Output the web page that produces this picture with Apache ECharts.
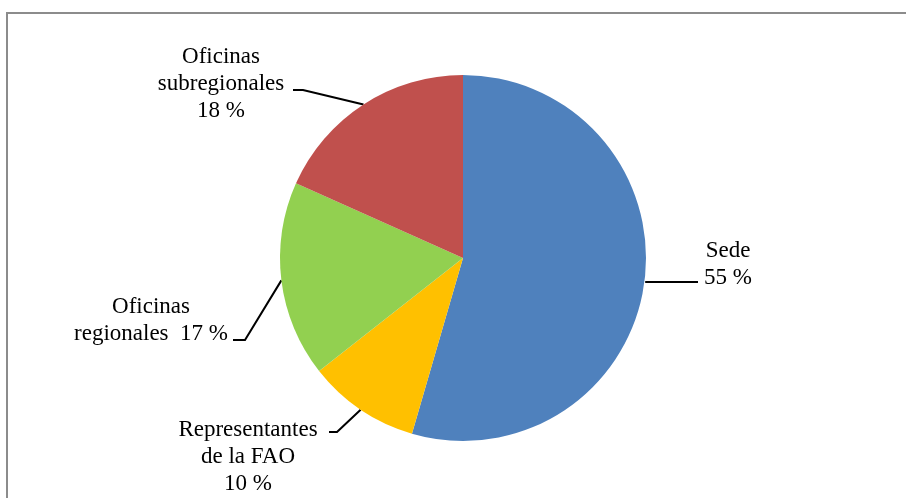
<!DOCTYPE html>
<html>
<head>
<meta charset="utf-8">
<script src="https://cdn.jsdelivr.net/npm/echarts@6/dist/echarts.min.js"></script>
<style>
	html,body{margin:0;padding:0;background:#fff;}
	#wrap{position:relative;width:906px;height:498px;overflow:hidden;}
	#frame{position:absolute;left:6px;top:12px;width:920px;height:520px;border:2px solid #8c8c8c;box-sizing:border-box;}
	#chart{position:absolute;left:0;top:0;width:906px;height:498px;}
</style>
</head>
<body>
<div id="wrap">
	<div id="frame"></div>
	<div id="chart"></div>
</div>
<script>
// datos del gráfico
var categories = ['Sede', 'Representantes de la FAO', 'Oficinas regionales', 'Oficinas subregionales'];
var values = [54.5, 9.9, 17.3, 18.3];
var labelNames = ['Sede\n', 'Representantes\nde la FAO\n', 'Oficinas\nregionales  ', 'Oficinas\nsubregionales\n'];
var colors = ['#4f81bd', '#ffc000', '#92d050', '#c0504d'];

(function(){
	var myChart = echarts.init(document.getElementById('chart'));
	//posicion de las etiquetas
	var labelPos = [
		{x: 728, y: 264, line: [[698, 282]]},
		{x: 248, y: 457, line: [[337, 432], [329, 432]]},
		{x: 151, y: 320, line: [[245, 340], [233, 340]]},
		{x: 221, y: 84, line: [[303, 90], [293, 90]]}
	];
	var option = {
		animation: false,
		series: [
			{
				type: 'pie',
				center: [463, 258],
				radius: 183,
				startAngle: 90,
				clockwise: true,
				avoidLabelOverlap: false,
				itemStyle: {
					borderWidth: 0
				},
				label: {
					show: true,
					color: '#000',
					fontFamily: '"Liberation Serif", "Times New Roman", serif',
					fontSize: 23,
					lineHeight: 27,
					align: 'center',
					formatter: function(p){
						return labelNames[p.dataIndex] + Math.round(p.value) + ' %';
					}
				},
				labelLine: {
					show: true,
					lineStyle: {
						color: '#000',
						width: 2
					}
				},
				labelLayout: function(params){
					var lp = labelPos[params.dataIndex];
					var p0 = params.labelLinePoints ? params.labelLinePoints[0] : [0, 0];
					var pts = [p0].concat(lp.line);
					if (params.dataIndex === 0) {
						pts = [[p0[0] + 1, 282]].concat(lp.line);
					}
					return {
						x: lp.x,
						y: lp.y,
						align: 'center',
						verticalAlign: 'middle',
						labelLinePoints: pts
					};
				},
				emphasis: {disabled: true},
				data: categories.map(function(c, i){
					return {name: c, value: values[i], itemStyle: {color: colors[i]}};
				})
			}
		]
	};
	myChart.setOption(option);
	window.addEventListener('resize', function(){
		myChart.resize();
	});
})();
</script>
</body>
</html>
